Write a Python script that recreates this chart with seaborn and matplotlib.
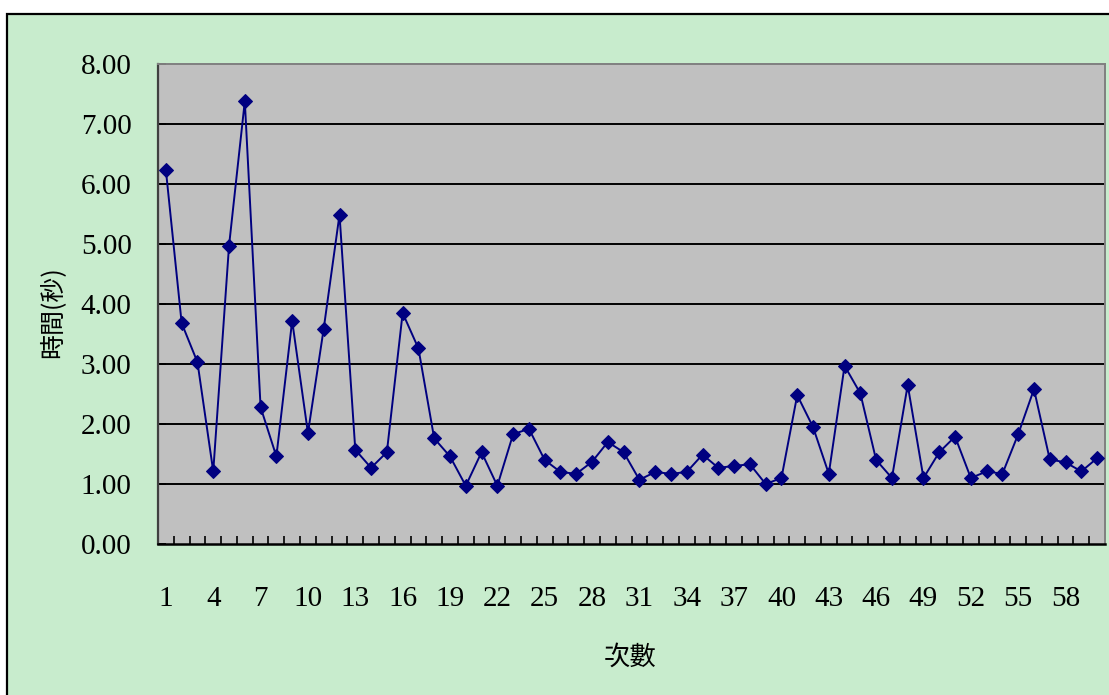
import matplotlib
matplotlib.use("Agg")
import matplotlib.pyplot as plt
from matplotlib.patches import Rectangle
from matplotlib.ticker import FixedLocator, NullFormatter
import seaborn as sns
import pandas as pd

# Trial number and measured time (seconds) for each trial
trials = list(range(1, 61))
times = [
    6.23, 3.68, 3.03, 1.21, 4.97, 7.38, 2.28, 1.46, 3.72, 1.85,
    3.59, 5.49, 1.57, 1.27, 1.53, 3.85, 3.26, 1.76, 1.46, 0.97,
    1.53, 0.97, 1.83, 1.92, 1.40, 1.20, 1.17, 1.37, 1.70, 1.53,
    1.07, 1.20, 1.17, 1.20, 1.49, 1.27, 1.30, 1.33, 1.00, 1.10,
    2.48, 1.95, 1.17, 2.97, 2.51, 1.40, 1.10, 2.65, 1.10, 1.53,
    1.79, 1.10, 1.21, 1.17, 1.83, 2.58, 1.41, 1.36, 1.21, 1.43,
]
x_tick_labels = [str(n) for n in range(1, 61, 3)]
y_ticks = [0, 1, 2, 3, 4, 5, 6, 7, 8]
y_tick_labels = [f"{v:.2f}" for v in y_ticks]
x_title = "次數"
y_title = "時間(秒)"

df = pd.DataFrame({"trial": trials, "time": times})

sns.set_theme(style="white")
plt.rcParams["font.family"] = ["Liberation Serif", "Noto Sans CJK TC"]

W, H = 1109, 695
fig = plt.figure(figsize=(W / 100, H / 100), dpi=100, facecolor="white")

# Green chart-area frame (extends past the right and bottom edges)
fig.patches.append(Rectangle((7 / W, -0.05), 1.2, (H - 14) / H + 0.05,
                             transform=fig.transFigure, facecolor="#C8ECCD",
                             edgecolor="black", linewidth=1.6, zorder=-5))

left, right, top, bottom = 158, 1105, 64, 544
ax = fig.add_axes([left / W, 1 - bottom / H, (right - left) / W, (bottom - top) / H])
ax.set_facecolor("#C0C0C0")

sns.lineplot(data=df, x="trial", y="time", ax=ax, color="#000080",
             linewidth=1.4, marker="D", markersize=7.5,
             markeredgecolor="#000080", markerfacecolor="#000080", zorder=3)

ax.set_xlim(0.5, 60.5)
ax.set_ylim(0, 8)

# Horizontal gridlines
for v in y_ticks[1:-1]:
    ax.axhline(v, color="black", linewidth=1.4, zorder=1)

ax.set_yticks(y_ticks)
ax.set_yticklabels(y_tick_labels)
ax.tick_params(axis="y", direction="in", length=6, width=1.4, color="black",
               pad=19, labelsize=21, labelcolor="black", left=True)

ax.set_xticks(list(range(1, 61, 3)))
ax.set_xticklabels(x_tick_labels)
ax.xaxis.set_minor_locator(FixedLocator([k + 0.5 for k in range(1, 60)]))
ax.xaxis.set_minor_formatter(NullFormatter())
ax.tick_params(axis="x", which="major", length=0, pad=30, labelsize=21,
               labelcolor="black")
ax.tick_params(axis="x", which="minor", direction="in", length=6, width=1.2,
               color="black", bottom=True)

for side in ("top", "right"):
    ax.spines[side].set_visible(True)
    ax.spines[side].set_color("#808080")
    ax.spines[side].set_linewidth(1.4)
ax.spines["left"].set_color("#404040")
ax.spines["left"].set_linewidth(1.6)
ax.spines["bottom"].set_color("black")
ax.spines["bottom"].set_linewidth(1.8)

ax.set_xlabel(x_title, fontsize=19, family=["Noto Sans CJK TC"], color="black")
ax.set_ylabel(y_title, fontsize=18, family=["Noto Sans CJK TC"], color="black")
ax.xaxis.set_label_coords((630 - left) / (right - left), (bottom - 644) / (bottom - top))
ax.yaxis.set_label_coords((65 - left) / (right - left), (bottom - 312) / (bottom - top))

fig.savefig("out.png", dpi=100, facecolor="white")
